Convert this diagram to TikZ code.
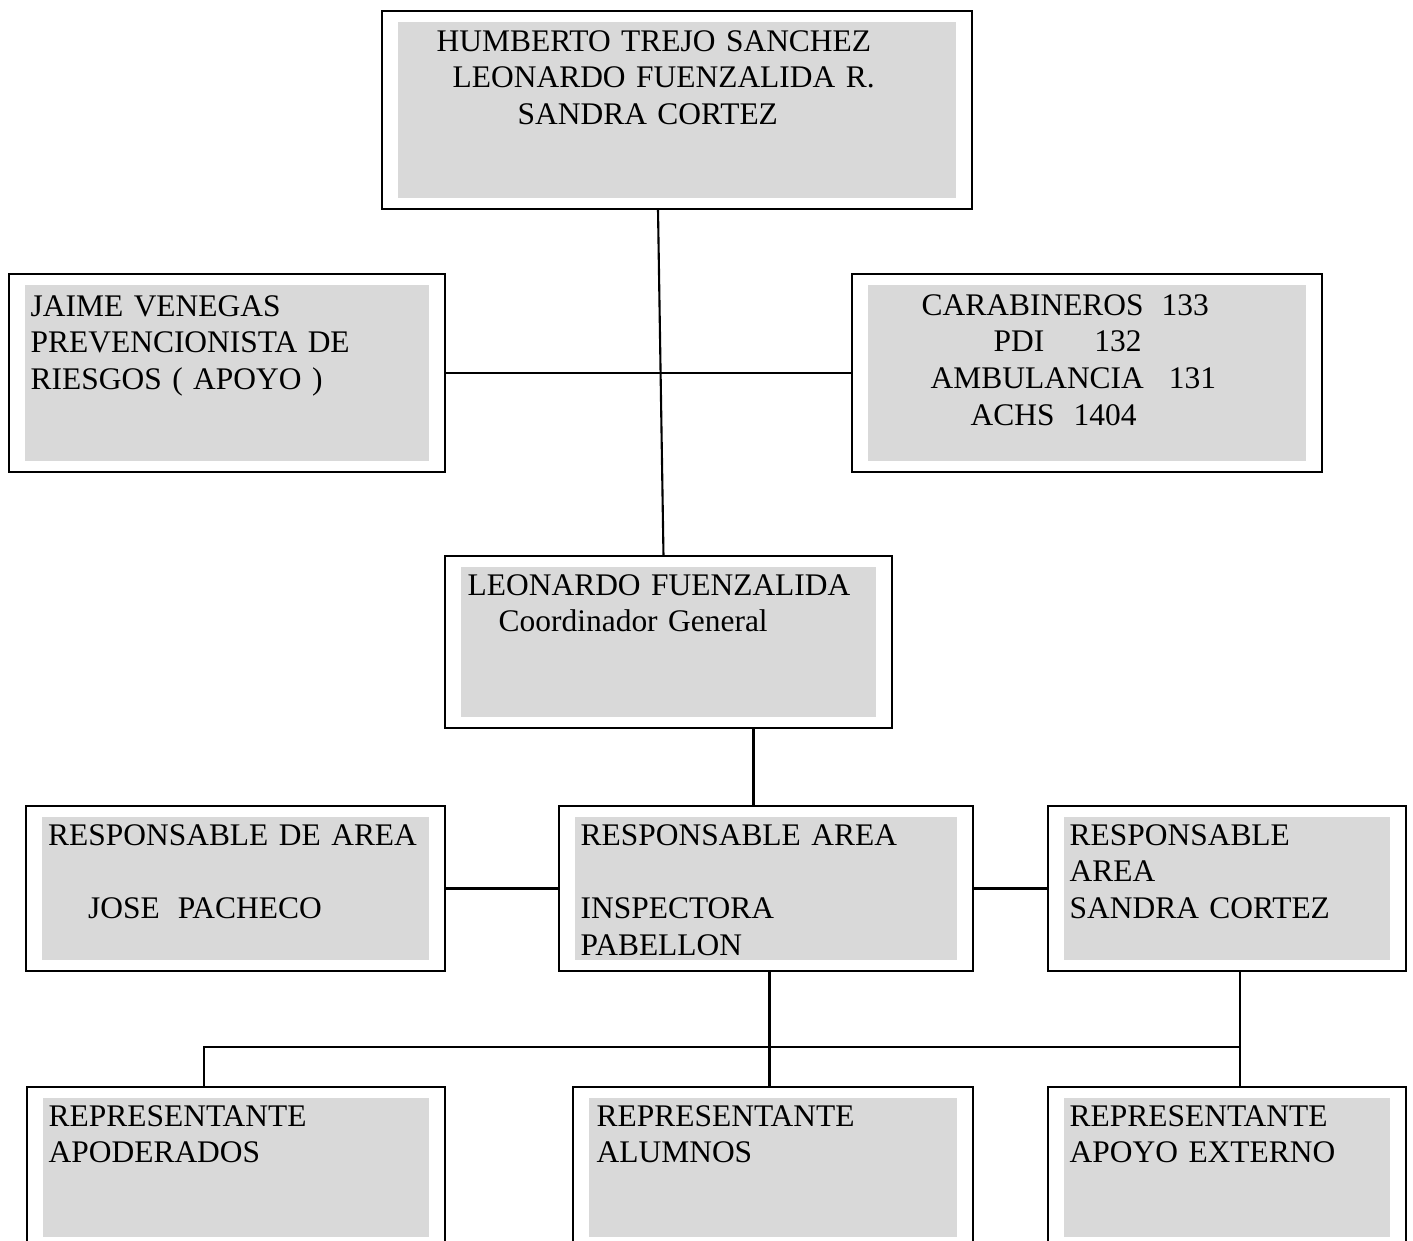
\documentclass[tikz,border=0pt]{standalone}
\usepackage{fontspec}
\setmainfont{Liberation Serif}
\usepackage{xcolor}
\usepackage{tikz}
\definecolor{fondo_gris}{HTML}{D9D9D9}

\begin{document}
\begin{tikzpicture}[every node/.style={font=\fontsize{8.95}{10.5}\selectfont},
  caja/.style={draw, line width=0.6pt, fill=white, inner sep=0pt, outer sep=0pt, anchor=north west,
    path picture={\fill[fondo_gris] ([shift={(0.16,-0.11)}]path picture bounding box.north west)
      rectangle ([shift={(-0.16,0.11)}]path picture bounding box.south east);}},
  texto/.style={anchor=base west, inner sep=0pt, text width=5cm, align=left},
  conector/.style={line width=0.6pt}]

  \useasboundingbox (0,0) rectangle (14.13,-12.41);
  \clip (0,0) rectangle (14.13,-12.41);

  \node[caja, minimum width=5.90cm, minimum height=1.98cm] (directiva) at (3.82,-0.11) {};
  \node[texto] (directivaTxt) at (4.36,-0.51)
  {HUMBERTO TREJO SANCHEZ\\\hspace*{0.16cm}LEONARDO FUENZALIDA R.\\\hspace*{0.81cm}SANDRA CORTEZ};

  \node[caja, minimum width=4.36cm, minimum height=1.98cm] (prevencion) at (0.09,-2.74) {};
  \node[texto] (prevencionTxt) at (0.30,-3.16)
  {JAIME VENEGAS\\PREVENCIONISTA DE\\RIESGOS ( APOYO )};

  \node[caja, minimum width=4.70cm, minimum height=1.98cm] (emergencia) at (8.52,-2.74) {};
  \node[texto] (emergenciaTxt) at (9.21,-3.15)
  {CARABINEROS\hspace{0.18cm}133\\\hspace*{0.72cm}PDI\hspace{0.50cm}132\\
   \hspace*{0.09cm}AMBULANCIA\hspace{0.25cm}131\\\hspace*{0.49cm}ACHS\hspace{0.19cm}1404};

  \node[caja, minimum width=4.47cm, minimum height=1.72cm] (coordinador) at (4.45,-5.56) {};
  \node[texto] (coordinadorTxt) at (4.67,-5.95)
  {LEONARDO FUENZALIDA\\\hspace*{0.31cm}Coordinador General};

  % fila de responsables
  \node[caja, minimum width=4.19cm, minimum height=1.65cm] (areaPacheco) at (0.26,-8.06) {};
  \node[texto] (areaPachecoTxt) at (0.475,-8.45)
  {RESPONSABLE DE AREA\\[10.5pt]\hspace*{0.40cm}JOSE\hspace{0.18cm}PACHECO};

  \node[caja, minimum width=4.14cm, minimum height=1.65cm] (areaInspectora) at (5.59,-8.06) {};
  \node[texto] (areaInspectoraTxt) at (5.80,-8.45)
  {RESPONSABLE AREA\\[10.5pt]INSPECTORA\\PABELLON};

  \node[caja, minimum width=3.58cm, minimum height=1.65cm] (areaCortez) at (10.48,-8.06) {};
  \node[texto] (areaCortezTxt) at (10.69,-8.45)
  {RESPONSABLE\\AREA\\SANDRA CORTEZ};

  % fila de representantes (cortada abajo)
  \node[caja, minimum width=4.18cm, minimum height=1.61cm] (apoderados) at (0.27,-10.87) {};
  \node[texto] (apoderadosTxt) at (0.48,-11.26) {REPRESENTANTE\\APODERADOS};

  \node[caja, minimum width=4.00cm, minimum height=1.61cm] (alumnos) at (5.73,-10.87) {};
  \node[texto] (alumnosTxt) at (5.96,-11.26) {REPRESENTANTE\\ALUMNOS};

  \node[caja, minimum width=3.58cm, minimum height=1.61cm] (externo) at (10.48,-10.87) {};
  \node[texto] (externoTxt) at (10.69,-11.26) {REPRESENTANTE\\APOYO EXTERNO};

  \draw[conector] ([xshift=-0.19cm]directiva.south) -- ([xshift=-0.05cm]coordinador.north);
  \draw[conector] (prevencion.east) -- (emergencia.west);
  \draw[conector] ([xshift=0.85cm]coordinador.south) -- ([xshift=0.85cm]coordinador.south |- areaInspectora.north);
  \draw[conector] (areaPacheco.east) -- (areaInspectora.west);
  \draw[conector] (areaInspectora.east) -- (areaCortez.west);

  \coordinate (barra) at (12.40,-10.47);
  \draw[conector] ([xshift=0.035cm]areaInspectora.south) -- ([xshift=0.035cm]areaInspectora.south |- alumnos.north);
  \draw[conector] ([xshift=0.13cm]areaCortez.south) -- ([xshift=0.13cm]externo.north);
  \draw[conector] ([xshift=-0.32cm]apoderados.north) |- (barra);

\end{tikzpicture}
\end{document}
